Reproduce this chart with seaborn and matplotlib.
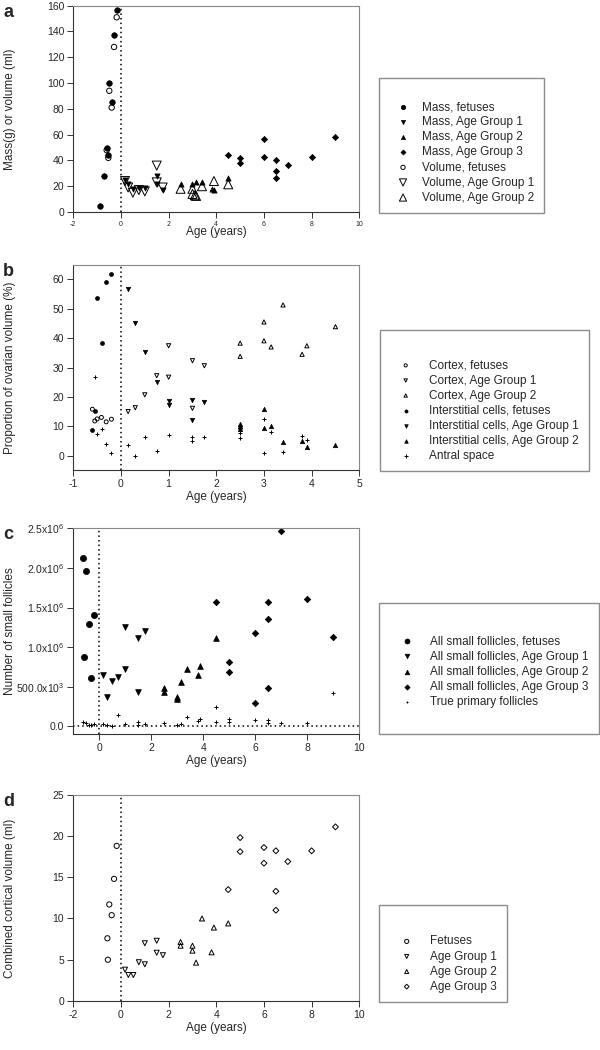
"""Four-panel ovary development figure: mass/volume, composition, follicles, cortex."""

import matplotlib

matplotlib.use("Agg")
import matplotlib.pyplot as plt
import seaborn as sns
from matplotlib.patches import Rectangle

W, H = 600, 1050

# ---- panel a: mass / volume ----
a_mass_fet_x = [-0.9, -0.7, -0.6, -0.53, -0.49, -0.39, -0.29, -0.18]
a_mass_fet_y = [4.5, 28, 50, 44, 100, 85, 137, 157]
a_mass_ag1_x = [0.17, 0.3, 0.5, 0.75, 1.0, 1.5, 1.5, 1.75]
a_mass_ag1_y = [25, 22, 18, 19, 19, 28, 22, 17]
a_mass_ag2_x = [2.5, 3.0, 3.15, 3.4, 3.8, 3.9, 4.5]
a_mass_ag2_y = [22, 22, 23, 23.5, 17.5, 17, 26.5]
a_mass_ag3_x = [4.5, 5, 5, 6, 6, 6.5, 6.5, 6.5, 7, 8, 9]
a_mass_ag3_y = [44, 42, 38, 57, 43, 40, 31.5, 26.5, 36.5, 42.5, 58.5]
a_vol_fet_x = [-0.6, -0.53, -0.49, -0.39, -0.29, -0.18]
a_vol_fet_y = [48, 42, 94, 81, 128, 151]
a_vol_ag1_x = [0.17, 0.3, 0.5, 0.75, 1.0, 1.5, 1.5, 1.75]
a_vol_ag1_y = [24, 19, 15, 17, 16, 36, 23, 19]
a_vol_ag2_x = [2.5, 3.0, 3.0, 3.1, 3.15, 3.4, 3.9, 4.5]
a_vol_ag2_y = [18, 18, 14, 13, 12.5, 20, 24, 21.5]

# ---- panel b: proportion of ovarian volume ----
b_cor_fet_x = [-0.6, -0.55, -0.5, -0.41, -0.31, -0.2]
b_cor_fet_y = [15.8, 11.8, 12.5, 13, 11.5, 12.4]
b_cor_ag1_x = [0.15, 0.3, 0.5, 0.75, 1.0, 1.0, 1.5, 1.5, 1.75]
b_cor_ag1_y = [15, 16.3, 20.7, 27.2, 26.7, 37.4, 32.3, 16.1, 30.6]
b_cor_ag2_x = [2.5, 2.5, 3.0, 3.0, 3.15, 3.4, 3.8, 3.9, 4.5]
b_cor_ag2_y = [38.3, 33.8, 45.5, 39.1, 37, 51.3, 34.5, 37.4, 43.9]
b_int_fet_x = [-0.21, -0.31, -0.5, -0.4, -0.6, -0.55]
b_int_fet_y = [61.8, 59.2, 53.8, 38.2, 8.7, 15.3]
b_int_ag1_x = [0.15, 0.3, 0.5, 0.75, 1.0, 1.0, 1.5, 1.5, 1.75]
b_int_ag1_y = [56.8, 45.1, 35.3, 25, 18.5, 17.2, 18.9, 12, 18.2]
b_int_ag2_x = [2.5, 2.5, 2.5, 3.0, 3.0, 3.15, 3.4, 3.8, 3.9, 4.5]
b_int_ag2_y = [10.7, 10, 9.2, 16, 9.5, 10.2, 4.7, 4.9, 2.8, 3.5]
b_antral_x = [-0.55, -0.5, -0.4, -0.31, -0.2, 0.15, 0.3, 0.5, 0.75, 1.0, 1.5,
              1.5, 1.75, 2.5, 2.5, 2.5, 3.0, 3.0, 3.15, 3.4, 3.8, 3.9]
b_antral_y = [26.7, 7.4, 9.1, 4.1, 1.0, 3.5, 0, 6.2, 1.5, 7.0, 6.4,
              4.9, 6.2, 9.1, 7.6, 5.9, 12.4, 1.0, 8.2, 1.3, 6.8, 5.3]

# ---- panel c: number of small follicles ----
c_fet_x = [-0.62, -0.52, -0.41, -0.22, -0.57, -0.31]
c_fet_y = [2.12e6, 1.96e6, 1.29e6, 1.41e6, 0.87e6, 0.61e6]
c_ag1_x = [0.15, 0.31, 0.49, 0.73, 0.99, 0.99, 1.49, 1.49, 1.74]
c_ag1_y = [0.65e6, 0.37e6, 0.57e6, 0.62e6, 0.73e6, 1.26e6, 1.12e6, 0.44e6, 1.21e6]
c_ag2_x = [2.5, 2.5, 3.0, 3.0, 3.14, 3.39, 3.8, 3.89, 4.48]
c_ag2_y = [0.49e6, 0.44e6, 0.375e6, 0.35e6, 0.565e6, 0.726e6, 0.654e6, 0.764e6, 1.12e6]
c_ag3_x = [4.48, 5.0, 5.0, 6.0, 6.0, 6.5, 6.5, 6.5, 7.0, 8.0, 9.0]
c_ag3_y = [1.57e6, 0.81e6, 0.69e6, 1.18e6, 0.30e6, 1.565e6, 1.35e6, 0.48e6,
           2.46e6, 1.61e6, 1.13e6]
c_prim_x = [-0.62, -0.52, -0.41, -0.31, -0.22, 0.15, 0.31, 0.49, 0.73, 0.99,
            1.49, 1.49, 1.74, 2.5, 3.0, 3.14, 3.39, 3.8, 3.89, 4.48, 4.48,
            5.0, 5.0, 6.0, 6.5, 6.5, 7.0, 8.0, 9.0]
c_prim_y = [0.06e6, 0.046e6, 0.017e6, 0.017e6, 0.03e6, 0.03e6, 0.017e6, 0.004e6,
            0.14e6, 0.03e6, 0.055e6, 0.017e6, 0.03e6, 0.04e6, 0.017e6, 0.034e6,
            0.12e6, 0.07e6, 0.09e6, 0.25e6, 0.055e6, 0.09e6, 0.05e6, 0.084e6,
            0.084e6, 0.04e6, 0.04e6, 0.04e6, 0.42e6]

# ---- panel d: combined cortical volume ----
d_fet_x = [-0.57, -0.55, -0.49, -0.39, -0.29, -0.18]
d_fet_y = [7.6, 5.0, 11.7, 10.4, 14.8, 18.8]
d_ag1_x = [0.17, 0.31, 0.52, 0.75, 1.0, 1.0, 1.5, 1.5, 1.76]
d_ag1_y = [3.8, 3.15, 3.15, 4.7, 4.45, 7.0, 7.3, 5.85, 5.55]
d_ag2_x = [2.5, 2.5, 3.0, 3.0, 3.15, 3.4, 3.8, 3.9, 4.5]
d_ag2_y = [7.15, 6.7, 6.7, 6.1, 4.65, 10.0, 5.9, 8.9, 9.4]
d_ag3_x = [4.5, 5.0, 5.0, 6.0, 6.0, 6.5, 6.5, 6.5, 7.0, 8.0, 9.0]
d_ag3_y = [13.5, 19.8, 18.1, 18.6, 16.7, 18.2, 13.3, 11.0, 16.9, 18.2, 21.1]

sns.set_style("ticks")
plt.rcParams["font.family"] = ["Liberation Sans", "DejaVu Sans"]
plt.rcParams["mathtext.fontset"] = "custom"
plt.rcParams["mathtext.rm"] = "Liberation Sans"
plt.rcParams["axes.unicode_minus"] = False


def fx(px):
    return px / W


def fy(py):
    return 1 - py / H


def dots(ax, x, y, marker, s, filled, label):
    if filled:
        sns.scatterplot(x=x, y=y, ax=ax, marker=marker, s=s, color="black",
                        edgecolor="black", linewidth=0.5, label=label, legend=False)
    elif marker == "+":
        sns.scatterplot(x=x, y=y, ax=ax, marker=marker, s=s, color="black",
                        linewidth=0.7, label=label, legend=False)
    else:
        sns.scatterplot(x=x, y=y, ax=ax, marker=marker, s=s, facecolor="none",
                        edgecolor="black", linewidth=0.7, label=label, legend=False)


def make_axes(fig, top, bottom):
    left, right = 73.3, 359.3
    ax = fig.add_axes([fx(left), fy(bottom), (right - left) / W, (bottom - top) / H])
    for side in ("left", "bottom"):
        ax.spines[side].set_color("#333333")
        ax.spines[side].set_linewidth(0.8)
    for side in ("top", "right"):
        ax.spines[side].set_color("#888888")
        ax.spines[side].set_linewidth(0.8)
    ax.tick_params(direction="out", length=4, width=0.7, color="#333333",
                   labelsize=7.5, pad=2.5, top=False, right=False)
    ax.axvline(0, color="black", ls=(0, (1, 2)), lw=1.1, zorder=1)
    return ax


def finish(fig, ax, letter, top, bottom, ylabel, xlabel_gap, box, first_row, marker_x, text_x):
    ax.set_ylabel(ylabel, fontsize=8.5)
    ax.set_xlabel("Age (years)", fontsize=8.5)
    ax.yaxis.set_label_coords((16 - 73.3) / 286, 0.5)
    ax.xaxis.set_label_coords(0.5, -xlabel_gap / (bottom - top))
    fig.text(fx(3), fy(top - 2), letter, fontsize=13, fontweight="bold",
             ha="left", va="top")
    x0, y0, x1, y1 = box
    fig.patches.append(Rectangle((fx(x0), fy(y1)), (x1 - x0) / W, (y1 - y0) / H,
                                 transform=fig.transFigure, fill=False,
                                 edgecolor="#8c8c8c", lw=1.0))
    fs = 8.5
    em = fs * 100 / 72
    handles, labels = ax.get_legend_handles_labels()
    hl = 1.0
    left = marker_x - hl * em / 2
    pad = (text_x - left - hl * em) / em
    fig.legend(handles, labels, loc="upper left",
               bbox_to_anchor=(fx(left), fy(first_row - 4.5)),
               frameon=False, fontsize=fs, borderpad=0, borderaxespad=0,
               handlelength=hl, handletextpad=pad, labelspacing=0.26,
               scatterpoints=1, markerscale=0.8)


fig = plt.figure(figsize=(W / 100, H / 100), dpi=100)

# panel a
ax = make_axes(fig, 5.7, 212)
dots(ax, a_mass_fet_x, a_mass_fet_y, "o", 16, True, "Mass, fetuses")
dots(ax, a_mass_ag1_x, a_mass_ag1_y, "v", 14, True, "Mass, Age Group 1")
dots(ax, a_mass_ag2_x, a_mass_ag2_y, "^", 14, True, "Mass, Age Group 2")
dots(ax, a_mass_ag3_x, a_mass_ag3_y, "D", 10, True, "Mass, Age Group 3")
dots(ax, a_vol_fet_x, a_vol_fet_y, "o", 15, False, "Volume, fetuses")
dots(ax, a_vol_ag1_x, a_vol_ag1_y, "v", 42, False, "Volume, Age Group 1")
dots(ax, a_vol_ag2_x, a_vol_ag2_y, "^", 42, False, "Volume, Age Group 2")
ax.set_xlim(-2, 10)
ax.set_ylim(0, 160)
ax.set_xticks(range(-2, 11, 2))
ax.set_yticks(range(0, 161, 20))
ax.tick_params(axis="x", labelsize=5)
finish(fig, ax, "a", 5.7, 212, "Mass(g) or volume (ml)", 14,
       (379.3, 78.3, 544.3, 213.3), 105.7, 403, 422)

# panel b
ax = make_axes(fig, 264.7, 470.3)
dots(ax, b_cor_fet_x, b_cor_fet_y, "o", 8, False, "Cortex, fetuses")
dots(ax, b_cor_ag1_x, b_cor_ag1_y, "v", 9, False, "Cortex, Age Group 1")
dots(ax, b_cor_ag2_x, b_cor_ag2_y, "^", 9, False, "Cortex, Age Group 2")
dots(ax, b_int_fet_x, b_int_fet_y, "o", 8, True, "Interstitial cells, fetuses")
dots(ax, b_int_ag1_x, b_int_ag1_y, "v", 10, True, "Interstitial cells, Age Group 1")
dots(ax, b_int_ag2_x, b_int_ag2_y, "^", 10, True, "Interstitial cells, Age Group 2")
dots(ax, b_antral_x, b_antral_y, "+", 8, False, "Antral space")
ax.set_xlim(-1, 5)
ax.set_ylim(-5, 65)
ax.set_xticks(range(-1, 6))
ax.set_yticks(range(0, 61, 10))
finish(fig, ax, "b", 264.7, 470.3, "Proportion of ovarian volume (%)", 21,
       (380, 330, 589, 471), 364, 405.7, 429)

# panel c
ax = make_axes(fig, 528.3, 734.3)
ax.axhline(0, color="black", ls=(0, (1, 2)), lw=1.1, zorder=1)
dots(ax, c_fet_x, c_fet_y, "o", 20, True, "All small follicles, fetuses")
dots(ax, c_ag1_x, c_ag1_y, "v", 17, True, "All small follicles, Age Group 1")
dots(ax, c_ag2_x, c_ag2_y, "^", 17, True, "All small follicles, Age Group 2")
dots(ax, c_ag3_x, c_ag3_y, "D", 11, True, "All small follicles, Age Group 3")
dots(ax, c_prim_x, c_prim_y, "+", 7, False, "True primary follicles")
ax.set_xlim(-1, 10)
ax.set_ylim(-0.1e6, 2.5e6)
ax.set_xticks(range(0, 11, 2))
ax.set_yticks([0, 0.5e6, 1.0e6, 1.5e6, 2.0e6, 2.5e6])
ax.set_yticklabels(["0.0", r"500.0x10$^3$", r"1.0x10$^6$", r"1.5x10$^6$",
                    r"2.0x10$^6$", r"2.5x10$^6$"])
finish(fig, ax, "c", 528.3, 734.3, "Number of small follicles", 21,
       (379.3, 603, 598.7, 734), 640, 406.7, 430)

# panel d
ax = make_axes(fig, 794.7, 1001)
dots(ax, d_fet_x, d_fet_y, "o", 14, False, "Fetuses")
dots(ax, d_ag1_x, d_ag1_y, "v", 13, False, "Age Group 1")
dots(ax, d_ag2_x, d_ag2_y, "^", 13, False, "Age Group 2")
dots(ax, d_ag3_x, d_ag3_y, "D", 9, False, "Age Group 3")
ax.set_xlim(-2, 10)
ax.set_ylim(0, 25)
ax.set_xticks(range(-2, 11, 2))
ax.set_yticks(range(0, 26, 5))
finish(fig, ax, "d", 794.7, 1001, "Combined cortical volume (ml)", 21,
       (379.3, 905, 506.7, 1001.7), 940, 406.7, 430)

fig.savefig("out.png", dpi=100)
